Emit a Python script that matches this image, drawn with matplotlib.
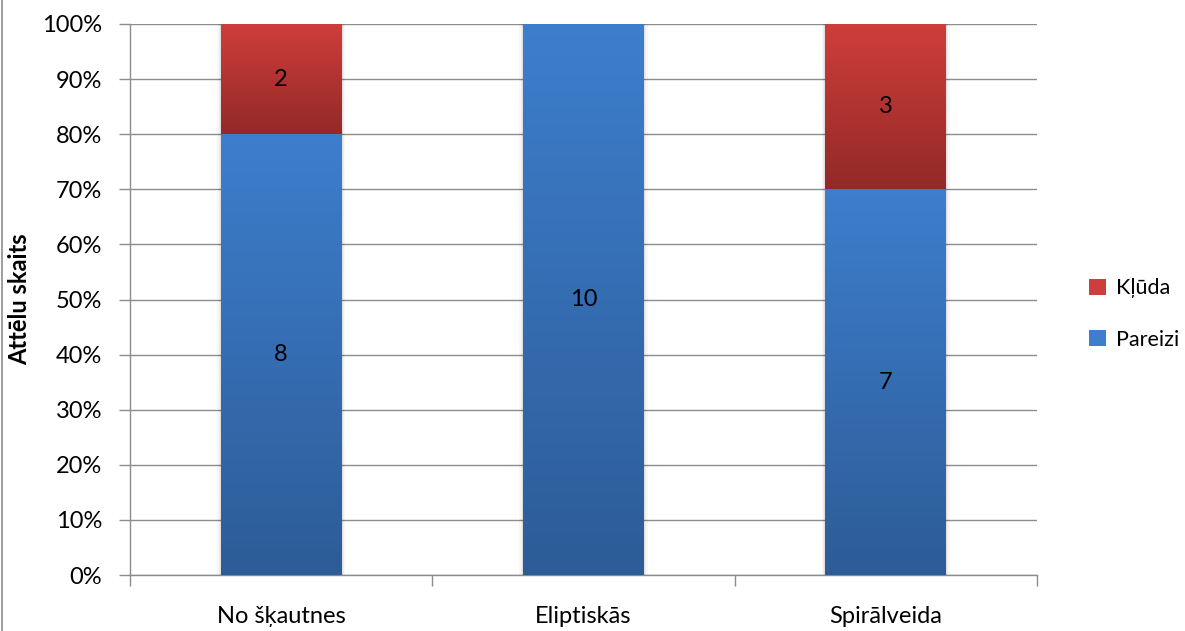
import numpy as np
import matplotlib
matplotlib.use("Agg")
import matplotlib.pyplot as plt
from matplotlib.colors import LinearSegmentedColormap
from matplotlib.ticker import PercentFormatter, FixedLocator

plt.rcParams['font.family'] = ['Lato', 'DejaVu Sans']

categories = ["No šķautnes", "Eliptiskās", "Spirālveida"]
pareizi = [8, 10, 7]
kluda = [2, 0, 3]
series_names = ["Pareizi", "Kļūda"]

totals = np.array(pareizi) + np.array(kluda)
pareizi_pct = np.array(pareizi) / totals * 100
kluda_pct = np.array(kluda) / totals * 100

blue_top, blue_bot = "#3D7ECD", "#2D5C97"
red_top, red_bot = "#CF3E3B", "#932927"
FS = 17

fig = plt.figure(figsize=(11.85, 6.31), dpi=100)
ax = fig.add_axes([130 / 1185, 1 - 575 / 631, 907 / 1185, 551 / 631])

x = np.arange(len(categories))
width = 0.40
b1 = ax.bar(x, pareizi_pct, width, color=blue_top, label=series_names[0], zorder=3)
b2 = ax.bar(x, kluda_pct, width, bottom=pareizi_pct, color=red_top,
            label=series_names[1], zorder=3)


def gradient_fill(bars, top, bottom):
    cmap = LinearSegmentedColormap.from_list("g", [bottom, top])
    grad = np.linspace(0, 1, 256).reshape(-1, 1)
    for p in bars:
        h = p.get_height()
        if h <= 0:
            continue
        x0, y0, w = p.get_x(), p.get_y(), p.get_width()
        # faint shadow around the bar
        for k, a in zip([0.024, 0.014, 0.007], [0.03, 0.04, 0.05]):
            ax.fill_between([x0 - k * 0.5, x0 + w + k * 0.5], y0, y0 + h,
                            color="black", alpha=a, lw=0, zorder=2)
        ax.imshow(grad, extent=[x0, x0 + w, y0, y0 + h], origin="lower",
                  cmap=cmap, aspect="auto", zorder=3.5, interpolation="bilinear")
        p.set_facecolor("none")


gradient_fill(b1, blue_top, blue_bot)
gradient_fill(b2, red_top, red_bot)

# value labels in the middle of each segment
for i in range(len(categories)):
    if pareizi[i] > 0:
        ax.text(x[i], pareizi_pct[i] / 2, str(pareizi[i]), ha="center", va="center",
                fontsize=FS, color="black", zorder=5)
    if kluda[i] > 0:
        ax.text(x[i], pareizi_pct[i] + kluda_pct[i] / 2, str(kluda[i]), ha="center",
                va="center", fontsize=FS, color="black", zorder=5)

ax.set_xlim(-0.5, len(categories) - 0.5)
ax.set_ylim(0, 100)
ax.set_yticks(np.arange(0, 101, 10))
ax.yaxis.set_major_formatter(PercentFormatter(decimals=0))
ax.yaxis.grid(True, color="#8C8C8C", lw=1.0, zorder=1)
ax.set_axisbelow(True)

ax.set_xticks(x)
ax.set_xticklabels(categories, fontsize=FS)
ax.tick_params(axis="x", length=0, pad=22)
ax.xaxis.set_minor_locator(FixedLocator(np.arange(-0.5, len(categories), 1.0)))
ax.tick_params(axis="x", which="minor", length=8, color="#8C8C8C", width=1)
ax.tick_params(axis="y", length=8, color="#8C8C8C", width=1, labelsize=FS, pad=12)

for s in ["top", "right"]:
    ax.spines[s].set_visible(False)
for s in ["left", "bottom"]:
    ax.spines[s].set_color("#8C8C8C")
    ax.spines[s].set_linewidth(1.0)

ax.set_ylabel("Attēlu skaits", fontsize=FS, fontweight="bold", labelpad=8)

handles = [b2, b1]
leg = fig.legend(handles, [series_names[1], series_names[0]], loc="center left",
                 bbox_to_anchor=(1089 / 1185, 1 - 314 / 631), frameon=False,
                 fontsize=15.5, handlelength=0.8, handleheight=0.8,
                 handletextpad=0.45, labelspacing=1.45, borderpad=0,
                 borderaxespad=0)
for h, c in zip(leg.legend_handles, [red_top, blue_top]):
    h.set_facecolor(c)

# thin outer frame line on the left edge
fig.add_artist(plt.Line2D([2 / 1185, 2 / 1185], [0, 1], color="#8C8C8C", lw=1.2,
                          transform=fig.transFigure))

fig.savefig("out.png", dpi=100)
